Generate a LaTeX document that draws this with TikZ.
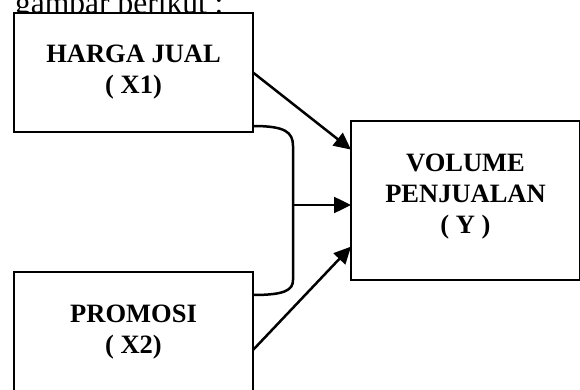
\documentclass[tikz,border=0pt]{standalone}
\usepackage{fontspec}
\setmainfont{Liberation Serif}
\usetikzlibrary{arrows.meta,calc}
\tikzset{
  boxnode/.style={draw=black, line width=2.3pt, fill=white, inner sep=0pt, outer sep=0pt,
    align=center, font=\fontsize{26.5}{31}\selectfont\bfseries},
  boxtext/.style={inner sep=0pt, align=center, font=\fontsize{26.5}{31}\selectfont\bfseries},
  conn/.style={line width=2.5pt, draw=black},
  arr/.style={conn, -{Triangle[length=17pt,width=16pt]}}
}
\begin{document}
\begin{tikzpicture}[x=1pt,y=-1pt]
\clip (0,0) rectangle (580,390);
\fill[white] (0,0) rectangle (580,390);
\node[anchor=base west, inner sep=0pt, font=\fontsize{31.5}{36}\selectfont] (cap) at (15,13.5) {gambar berikut :};
\node[boxnode, minimum width=239pt, minimum height=119pt] (X1) at (133.5,72.5) {HARGA JUAL\\( X1)};
\node[boxnode, minimum width=239pt, minimum height=120pt] (X2) at (133.5,332) {PROMOSI\\( X2)};
\node[boxnode, minimum width=229pt, minimum height=159pt] (Y) at (465.5,200.5) {};
\node[boxtext] (Ytext) at ($(Y.center)+(0,-4)$) {VOLUME\\PENJUALAN\\( Y )};
\coordinate (b1) at ($(X1.south east)+(0,-6)$);
\coordinate (b2) at ($(X2.north east)+(0,23)$);
\coordinate (br) at (293,205);
\draw[conn] (b1) .. controls (285,126) and (293,132) .. (293,146) -- (293,280) .. controls (293,290) and (285,295) .. (b2);
\draw[arr] (X1.east) -- ($(Y.north west)!0.18!(Y.south west)$);
\draw[arr] (br) -- (Y.west |- br);
\draw[arr] ($(X2.north east)!0.65!(X2.south east)$) -- ($(Y.north west)!0.79!(Y.south west)$);
\end{tikzpicture}
\end{document}
